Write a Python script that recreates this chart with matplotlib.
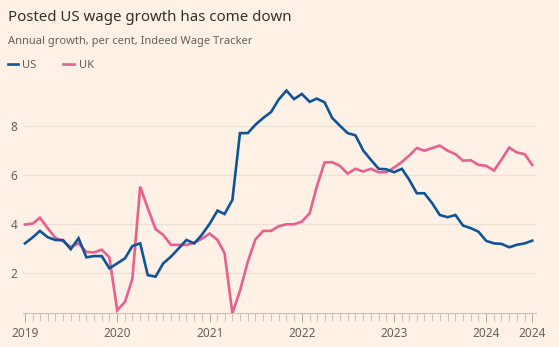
"""Posted US wage growth chart (Indeed Wage Tracker)."""

import numpy as np
import pandas as pd
import matplotlib
matplotlib.use("Agg")
import matplotlib.pyplot as plt
import matplotlib.dates as mdates
from matplotlib.lines import Line2D

# monthly values, Jan 2019 - Jul 2024 (per cent)
months = pd.date_range("2019-01-01", periods=67, freq="MS")

us = [3.20, 3.45, 3.71, 3.45, 3.34, 3.33, 2.96, 3.41, 2.63, 2.68, 2.68, 2.18,
      2.38, 2.59, 3.09, 3.20, 1.90, 1.84, 2.38, 2.66, 3.00, 3.34, 3.20, 3.55,
      4.00, 4.54, 4.40, 4.98, 7.71, 7.71, 8.05, 8.33, 8.57, 9.08, 9.45, 9.10,
      9.31, 8.99, 9.12, 8.97, 8.33, 8.01, 7.71, 7.62, 7.00, 6.62, 6.25, 6.23,
      6.11, 6.25, 5.82, 5.25, 5.25, 4.84, 4.36, 4.27, 4.36, 3.93, 3.82, 3.68,
      3.30, 3.20, 3.18, 3.04, 3.14, 3.20, 3.31]

uk = [3.97, 4.01, 4.25, 3.82, 3.43, 3.29, 3.05, 3.20, 2.85, 2.83, 2.94, 2.63,
      0.46, 0.81, 1.75, 5.52, 4.64, 3.78, 3.55, 3.14, 3.14, 3.14, 3.22, 3.39,
      3.60, 3.34, 2.80, 0.34, 1.26, 2.45, 3.36, 3.71, 3.71, 3.90, 3.98, 3.98,
      4.09, 4.43, 5.52, 6.51, 6.52, 6.37, 6.05, 6.25, 6.14, 6.25, 6.11, 6.11,
      6.30, 6.53, 6.78, 7.10, 6.99, 7.10, 7.20, 6.99, 6.85, 6.58, 6.60, 6.41,
      6.37, 6.18, 6.62, 7.12, 6.92, 6.85, 6.41]

names = ["US", "UK"]
colors = ["#0F5499", "#E9608E"]

ytick_vals = [2, 4, 6, 8]
xtick_dates = [pd.Timestamp(f"{y}-01-01") for y in range(2019, 2025)] + [months[-1]]
xtick_labels = [str(d.year) for d in xtick_dates]

bg = "#FFF1E5"
grey = "#66605C"
grid = "#EBE0D6"

plt.rcParams["font.family"] = ["Noto Sans", "DejaVu Sans"]

fig = plt.figure(figsize=(5.59, 3.47), dpi=100, facecolor=bg)
ax = fig.add_axes([0.0411, 0.0971, 0.9178, 0.6666], facecolor=bg)

for vals, name, c in zip([us, uk][::-1], names[::-1], colors[::-1]):
    ax.plot(months, vals, color=c, lw=1.9, label=name, solid_joinstyle="miter")

ax.set_ylim(0.34, 9.8)
ax.set_xlim(months[0] - pd.Timedelta(days=8), months[-1] + pd.Timedelta(days=15))

ax.set_yticks(ytick_vals)
ax.set_yticklabels([str(v) for v in ytick_vals])
ax.yaxis.grid(True, color=grid, lw=0.9)
ax.set_axisbelow(True)
ax.tick_params(axis="y", length=0, pad=4, labelsize=8.5, labelcolor=grey)

ax.set_xticks(xtick_dates)
ax.set_xticklabels(xtick_labels)
ax.xaxis.set_minor_locator(mdates.MonthLocator())
ax.tick_params(axis="x", which="both", length=5.5, width=0.7, color="#CCC1B7",
               labelsize=8.5, labelcolor=grey, pad=3)
ax.tick_params(axis="x", which="major", length=6.5, color="#B3A9A0")

for s in ["top", "right", "left"]:
    ax.spines[s].set_visible(False)
ax.spines["bottom"].set_color("#CCC1B7")
ax.spines["bottom"].set_linewidth(0.8)

# titles
H = 347.0
W = 559.0
fig.text(8 / W, 1 - 20.7 / H, "Posted US wage growth has come down",
         fontsize=10.8, color="#33302E", va="baseline")
fig.text(8 / W, 1 - 44.3 / H, "Annual growth, per cent, Indeed Wage Tracker",
         fontsize=8.0, color=grey, va="baseline")

# legend
leg_x = [(7.5, 22), (63, 79)]
for (x0, tx), name, c in zip(leg_x, names, colors):
    fig.add_artist(Line2D([x0 / W, (x0 + 10.5) / W], [1 - 64.3 / H] * 2,
                          color=c, lw=1.9, transform=fig.transFigure))
    fig.text(tx / W, 1 - 64.3 / H, name, fontsize=8, color=grey,
             va="center_baseline")

fig.savefig("out.png", dpi=100, facecolor=bg)
